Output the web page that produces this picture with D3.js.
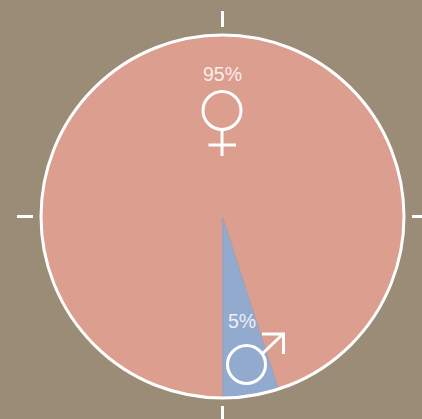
<!DOCTYPE html>
<html>
<head>
<meta charset="utf-8">
<script src="https://d3js.org/d3.v7.min.js"></script>
<style>
  html, body { margin: 0; padding: 0; background: #9b8c78; }
  svg { display: block; }
</style>
</head>
<body>
<div id="chart"></div>
<script>
// data
var categories = ["female", "male"];
var shares = [95, 5];
var shareLabels = ["95%", "5%"];
var sliceColors = ["#dc9e8f", "#92aacd"];

var width = 422, height = 419,
    cx = 222.5, cy = 216.5,
    radius = 181.5;

var svg = d3.select("#chart")
  .append("svg")
  .attr("width", width)
  .attr("height", height);

svg.append("rect")
  .attr("width", width)
  .attr("height", height)
  .attr("fill", "#9b8c78");

var g = svg.append("g")
  .attr("transform", "translate(" + cx + "," + cy + ")");

// pie starts at the bottom so the small slice ends there
var pie = d3.pie()
  .sort(null)
  .startAngle(Math.PI)
  .endAngle(3 * Math.PI)
  .value(function (d, i) { return shares[i]; });

var arc = d3.arc().innerRadius(0).outerRadius(radius);

g.selectAll("path.slice")
  .data(pie(categories))
  .enter()
  .append("path")
    .attr("class", "slice")
    .attr("d", arc)
    .attr("fill", function (d, i) { return sliceColors[i]; });

// white outline
g.append("circle")
  .attr("r", radius)
  .attr("fill", "none")
  .attr("stroke", "#fff")
  .attr("stroke-width", 3);

// tick marks on the compass points
var tickAngles = [0, 90, 180, 270];
g.selectAll("line.tick")
  .data(tickAngles)
  .enter()
  .append("line")
    .attr("class", "tick")
    .attr("x1", 0)
    .attr("x2", 0)
    .attr("y1", -(radius + 8))
    .attr("y2", -(radius + 24))
    .attr("stroke", "#fff")
    .attr("stroke-width", 3)
    .attr("transform", function (d) { return "rotate(" + d + ")"; });

// labels
var labelPos = [[222.5, 80.5], [242, 327.5]];
svg.selectAll("text.share")
  .data(shareLabels)
  .enter()
  .append("text")
    .attr("class", "share")
    .attr("x", function (d, i) { return labelPos[i][0]; })
    .attr("y", function (d, i) { return labelPos[i][1]; })
    .attr("text-anchor", "middle")
    .attr("font-family", "'Liberation Sans', Arial, sans-serif")
    .attr("font-size", 19.5)
    .attr("fill", "#fff")
    .attr("fill-opacity", 0.85)
    .text(function (d) { return d; });

// gender symbols
var symbols = svg.append("g")
  .attr("fill", "none")
  .attr("stroke", "#fff")
  .attr("stroke-width", 3);

symbols.append("circle").attr("cx", 222).attr("cy", 110.5).attr("r", 19);
symbols.append("path").attr("d", "M222,130V156M208.5,145H236");

symbols.append("circle").attr("cx", 246.5).attr("cy", 364.5).attr("r", 19);
symbols.append("path").attr("d", "M262,354L283,334M262,334H283.5V354");
</script>
</body>
</html>
